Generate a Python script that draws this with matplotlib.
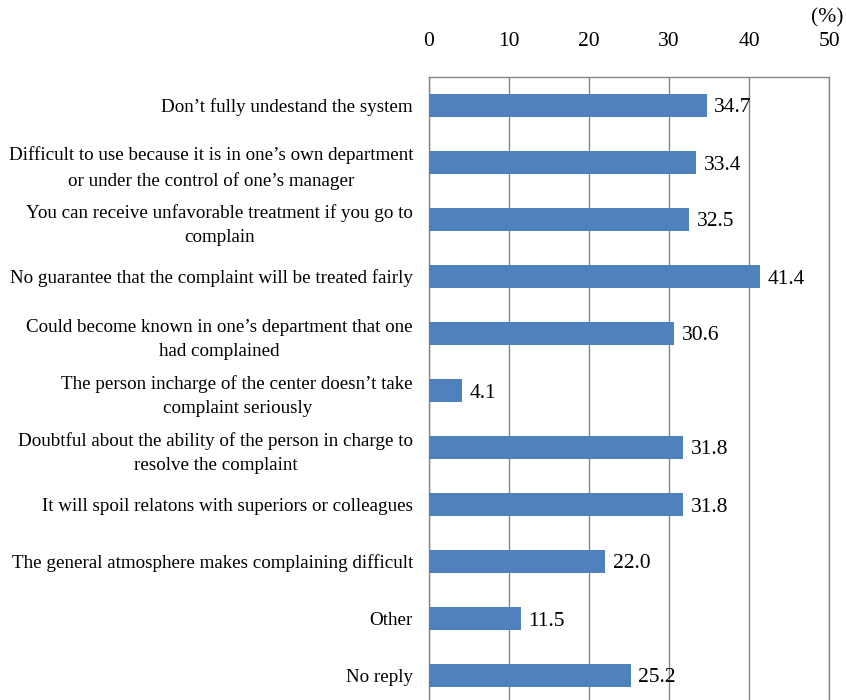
import matplotlib.pyplot as plt

labels = [
    "Don\u2019t fully undestand the system",
    "Difficult to use because it is in one\u2019s own department\nor under the control of one\u2019s manager",
    "You can receive unfavorable treatment if you go to\ncomplain",
    "No guarantee that the complaint will be treated fairly",
    "Could become known in one\u2019s department that one\nhad complained",
    "The person incharge of the center doesn\u2019t take\ncomplaint seriously",
    "Doubtful about the ability of the person in charge to\nresolve the complaint",
    "It will spoil relatons with superiors or colleagues",
    "The general atmosphere makes complaining difficult",
    "Other",
    "No reply",
]
values = [34.7, 33.4, 32.5, 41.4, 30.6, 4.1, 31.8, 31.8, 22.0, 11.5, 25.2]
xticks = [0, 10, 20, 30, 40, 50]

plt.rcParams['font.family'] = ['Liberation Serif', 'DejaVu Serif']

fig = plt.figure(figsize=(8.46, 7.0), dpi=100)
ax = fig.add_axes([429/846, -4/700, 400/846, 627/700])

pos = list(range(len(values)))
ax.barh(pos, values, height=0.39, color='#4F81BD', zorder=3)
for p, v in zip(pos, values):
    ax.annotate('%.1f' % v, (v, p), xytext=(5.5, 0), textcoords='offset points',
                va='center_baseline', ha='left', fontsize=15.5, zorder=4)

ax.set_xlim(0, 50)
ax.set_ylim(len(values) - 0.5, -0.5)
ax.set_xticks(xticks)
ax.xaxis.tick_top()
ax.tick_params(axis='x', length=0, pad=19, labelsize=15.5)
ax.set_yticks(pos)
ax.set_yticklabels(labels, fontsize=13.7, linespacing=1.55, multialignment='center')
ax.tick_params(axis='y', length=0, pad=11.5)
ax.grid(axis='x', color='#868686', linewidth=1.0, zorder=0)
for side in ['left', 'top', 'right']:
    ax.spines[side].set_color('#868686')
    ax.spines[side].set_linewidth(1.0)
ax.spines['bottom'].set_visible(False)

fig.text(843/846, 1 - 18/700, '(%)', ha='right', va='center', fontsize=15.5)

fig.savefig('out.png', dpi=100)
